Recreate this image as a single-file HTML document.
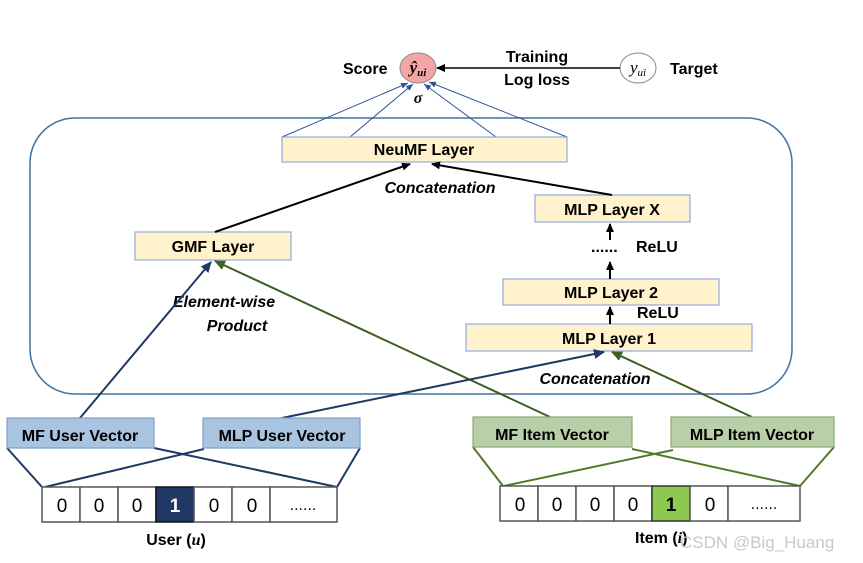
<!DOCTYPE html>
<html><head><meta charset="utf-8"><style>
body{margin:0;background:#fff}
svg{display:block;font-family:"Liberation Sans",sans-serif}
.b{font-weight:bold;font-size:16px}
</style></head><body>
<svg width="863" height="563" viewBox="0 0 863 563" xmlns="http://www.w3.org/2000/svg">
<defs>
<marker id="ak" markerWidth="10" markerHeight="10" refX="8" refY="4" orient="auto" markerUnits="userSpaceOnUse"><path d="M0,0 L9,4 L0,8z" fill="#000"/></marker>
<marker id="ab" markerWidth="12" markerHeight="12" refX="10" refY="5" orient="auto" markerUnits="userSpaceOnUse"><path d="M0,0 L11,5 L0,10z" fill="#1f3864"/></marker>
<marker id="ag" markerWidth="12" markerHeight="12" refX="10" refY="5" orient="auto" markerUnits="userSpaceOnUse"><path d="M0,0 L11,5 L0,10z" fill="#3d5f22"/></marker>
<marker id="at" markerWidth="8" markerHeight="8" refX="7" refY="3" orient="auto" markerUnits="userSpaceOnUse"><path d="M0,0 L7,3 L0,6z" fill="#2f5597"/></marker>
</defs>
<rect x="30" y="118" width="762" height="276" rx="45" fill="none" stroke="#41719c" stroke-width="1.5"/>
<text x="343" y="74" class="b">Score</text>
<ellipse cx="418" cy="68" rx="18" ry="15" fill="#f4a6a6" stroke="#888"/>
<text x="418" y="73" text-anchor="middle" font-family="Liberation Serif" font-style="italic" font-weight="bold" font-size="17">ŷ<tspan font-size="11" dy="3">ui</tspan></text>
<ellipse cx="638" cy="68" rx="18" ry="15" fill="#fff" stroke="#888"/>
<text x="638" y="73" text-anchor="middle" font-family="Liberation Serif" font-style="italic" font-size="17">y<tspan font-size="11" dy="3">ui</tspan></text>
<text x="670" y="74" class="b">Target</text>
<line x1="620" y1="68" x2="437" y2="68" stroke="#000" stroke-width="1.5" marker-end="url(#ak)"/>
<text x="537" y="62" text-anchor="middle" class="b">Training</text>
<text x="537" y="85" text-anchor="middle" class="b">Log loss</text>
<text x="418" y="103" text-anchor="middle" font-family="Liberation Serif" font-style="italic" font-weight="bold" font-size="16">σ</text>
<g stroke="#2f5597" stroke-width="1">
<line x1="282" y1="137" x2="408" y2="83" marker-end="url(#at)"/>
<line x1="350" y1="137" x2="413" y2="84" marker-end="url(#at)"/>
<line x1="496" y1="137" x2="424" y2="84" marker-end="url(#at)"/>
<line x1="567" y1="137" x2="429" y2="82" marker-end="url(#at)"/>
</g>
<g fill="#fff2cc" stroke="#8faadc" stroke-width="1.2">
<rect x="282" y="137" width="285" height="25"/>
<rect x="135" y="232" width="156" height="28"/>
<rect x="535" y="195" width="155" height="27"/>
<rect x="503" y="279" width="216" height="26"/>
<rect x="466" y="324" width="286" height="27"/>
</g>
<text x="424" y="155" text-anchor="middle" class="b">NeuMF Layer</text>
<text x="213" y="252" text-anchor="middle" class="b">GMF Layer</text>
<text x="612" y="215" text-anchor="middle" class="b">MLP Layer X</text>
<text x="611" y="298" text-anchor="middle" class="b">MLP Layer 2</text>
<text x="609" y="344" text-anchor="middle" class="b">MLP Layer 1</text>
<g stroke="#000" stroke-width="2">
<line x1="215" y1="232" x2="410" y2="164" marker-end="url(#ak)"/>
<line x1="612" y1="195" x2="432" y2="164" marker-end="url(#ak)"/>
<line x1="610" y1="324" x2="610" y2="307" marker-end="url(#ak)"/>
<line x1="610" y1="279" x2="610" y2="262" marker-end="url(#ak)"/>
<line x1="610" y1="240" x2="610" y2="224" marker-end="url(#ak)"/>
</g>
<text x="440" y="193" text-anchor="middle" class="b" font-style="italic">Concatenation</text>
<text x="591" y="252" class="b" font-size="14">......</text>
<text x="636" y="252" class="b" font-size="14">ReLU</text>
<text x="637" y="318" class="b" font-size="14">ReLU</text>
<text x="595" y="384" text-anchor="middle" class="b" font-style="italic">Concatenation</text>
<text x="224" y="307" text-anchor="middle" class="b" font-style="italic">Element-wise</text>
<text x="237" y="331" text-anchor="middle" class="b" font-style="italic">Product</text>
<line x1="80" y1="418" x2="211" y2="262" stroke="#1f3864" stroke-width="2" marker-end="url(#ab)"/>
<line x1="550" y1="417" x2="215" y2="261" stroke="#3d5f22" stroke-width="2" marker-end="url(#ag)"/>
<line x1="282" y1="418" x2="604" y2="352" stroke="#1f3864" stroke-width="2" marker-end="url(#ab)"/>
<line x1="752" y1="417" x2="612" y2="352" stroke="#3d5f22" stroke-width="2" marker-end="url(#ag)"/>
<g stroke="#1f3864" stroke-width="2">
<line x1="7" y1="448" x2="42" y2="487"/><line x1="154" y1="448" x2="337" y2="487"/>
<line x1="204" y1="449" x2="45" y2="487"/><line x1="360" y1="448" x2="337" y2="487"/>
</g>
<rect x="7" y="418" width="147" height="30" fill="#a9c4e0" stroke="#7f9fc6" stroke-width="1.2"/>
<rect x="203" y="418" width="157" height="30" fill="#a9c4e0" stroke="#7f9fc6" stroke-width="1.2"/>
<text x="80" y="441" text-anchor="middle" class="b">MF User Vector</text>
<text x="282" y="441" text-anchor="middle" class="b">MLP User Vector</text>
<g stroke="#555" stroke-width="1.5" fill="#fff">
<rect x="42" y="487" width="38" height="35"/><rect x="80" y="487" width="38" height="35"/><rect x="118" y="487" width="38" height="35"/>
<rect x="156" y="487" width="38" height="35" fill="#1f3864" stroke="#111"/><rect x="194" y="487" width="38" height="35"/><rect x="232" y="487" width="38" height="35"/><rect x="270" y="487" width="67" height="35"/>
</g>
<g font-size="19" text-anchor="middle">
<text x="62" y="512">0</text><text x="99" y="512">0</text><text x="137" y="512">0</text><text x="175" y="512" fill="#fff" font-weight="bold">1</text><text x="214" y="512">0</text><text x="252" y="512">0</text><text x="303" y="510" font-size="16">......</text>
</g>
<text x="176" y="545" text-anchor="middle" class="b">User (<tspan font-family="Liberation Serif" font-style="italic">u</tspan>)</text>
<g stroke="#4e7a2a" stroke-width="2">
<line x1="473" y1="447" x2="503" y2="486"/><line x1="632" y1="449" x2="800" y2="486"/>
<line x1="673" y1="450" x2="504" y2="486"/><line x1="834" y1="447" x2="800" y2="486"/>
</g>
<rect x="473" y="417" width="159" height="30" fill="#b9cfaa" stroke="#8aab70" stroke-width="1.2"/>
<rect x="671" y="417" width="163" height="30" fill="#b9cfaa" stroke="#8aab70" stroke-width="1.2"/>
<text x="552" y="440" text-anchor="middle" class="b">MF Item Vector</text>
<text x="752" y="440" text-anchor="middle" class="b">MLP Item Vector</text>
<g stroke="#555" stroke-width="1.5" fill="#fff">
<rect x="500" y="486" width="38" height="35"/><rect x="538" y="486" width="38" height="35"/><rect x="576" y="486" width="38" height="35"/><rect x="614" y="486" width="38" height="35"/>
<rect x="652" y="486" width="38" height="35" fill="#8dc84f" stroke="#333"/><rect x="690" y="486" width="38" height="35"/><rect x="728" y="486" width="72" height="35"/>
</g>
<g font-size="19" text-anchor="middle">
<text x="520" y="511">0</text><text x="557" y="511">0</text><text x="595" y="511">0</text><text x="633" y="511">0</text><text x="671" y="511" font-weight="bold">1</text><text x="710" y="511">0</text><text x="764" y="509" font-size="16">......</text>
</g>
<text x="635" y="543" class="b">Item (<tspan font-family="Liberation Serif" font-style="italic">i</tspan>)</text>
<text x="680" y="548" font-size="17" fill="#c8c8c8">CSDN @Big_Huang</text>
</svg>
</body></html>
